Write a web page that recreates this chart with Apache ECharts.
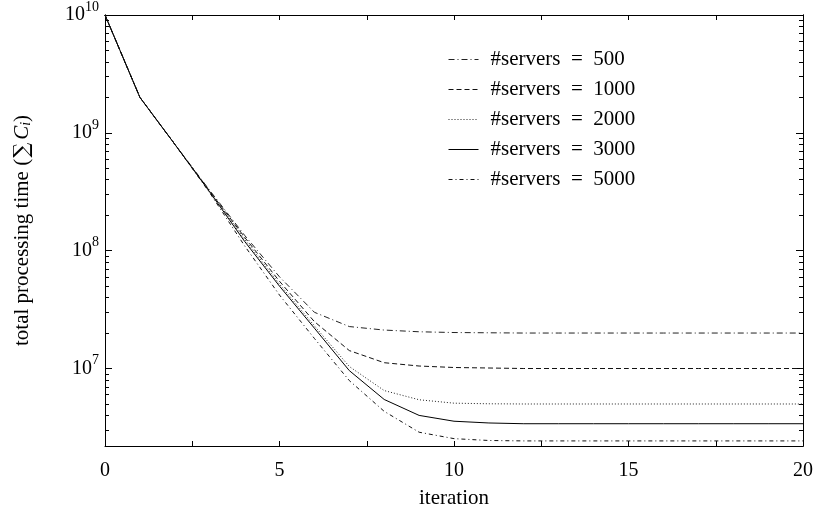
<!DOCTYPE html>
<html><head><meta charset="utf-8">
<script src="https://cdn.jsdelivr.net/npm/echarts@6/dist/echarts.min.js"></script>
<style>html,body{margin:0;padding:0;background:#fff}#c{width:816px;height:516px}</style>
</head><body><div id="c"></div>
<script>
const iterations = [0,1,2,3,4,5,6,7,8,9,10,11,12,13,14,15,16,17,18,19,20];
const seriesNames = ['#servers = 500','#servers = 1000','#servers = 2000','#servers = 3000','#servers = 5000'];
const s500  = [1e10,2e9,8.0e8,3.25e8,1.35e8,6.0e7,3.0e7,2.27e7,2.12e7,2.05e7,2.02e7,2.01e7,2.0e7,2.0e7,2.0e7,2.0e7,2.0e7,2.0e7,2.0e7,2.0e7,2.0e7];
const s1000 = [1e10,2e9,8.0e8,3.2e8,1.3e8,5.5e7,2.5e7,1.42e7,1.12e7,1.05e7,1.02e7,1.01e7,1.0e7,1.0e7,1.0e7,1.0e7,1.0e7,1.0e7,1.0e7,1.0e7,1.0e7];
const s2000 = [1e10,2e9,8.0e8,3.2e8,1.25e8,5.2e7,2.3e7,1.04e7,6.5e6,5.43e6,5.08e6,5.02e6,5.0e6,5.0e6,5.0e6,5.0e6,5.0e6,5.0e6,5.0e6,5.0e6,5.0e6];
const s3000 = [1e10,2e9,8.0e8,3.15e8,1.2e8,5.0e7,2.2e7,9.6e6,5.46e6,4.0e6,3.57e6,3.45e6,3.4e6,3.4e6,3.4e6,3.4e6,3.4e6,3.4e6,3.4e6,3.4e6,3.4e6];
const s5000 = [1e10,2e9,8.0e8,3.1e8,1.1e8,4.2e7,1.8e7,7.9e6,4.33e6,2.88e6,2.54e6,2.45e6,2.43e6,2.43e6,2.43e6,2.43e6,2.43e6,2.43e6,2.43e6,2.43e6,2.43e6];
const xTicks = [0,2.5,5,7.5,10,12.5,15,17.5,20];
const xLabels = [0,5,10,15,20];
const yMajor = [1e7,1e8,1e9,1e10];
const yMinor = [3e6,4e6,5e6,6e6,7e6,8e6,9e6,2e7,3e7,4e7,5e7,6e7,7e7,8e7,9e7,2e8,3e8,4e8,5e8,6e8,7e8,8e8,9e8,2e9,3e9,4e9,5e9,6e9,7e9,8e9,9e9];

const FONT = 'Liberation Serif';
const styles = [
  {type:[6,3,1,3], color:'#222'},
  {type:[5,3], color:'#111'},
  {type:[1,2], color:'#222'},
  {type:'solid', color:'#000'},
  {type:[4,3,1,3], color:'#111'}
];
const allData = [s500,s1000,s2000,s3000,s5000];
const series = allData.map((arr,k)=>({
  name: seriesNames[k], type:'line', symbol:'none', showSymbol:false, xAxisIndex:0, yAxisIndex:0,
  data: iterations.map((x,i)=>[x,arr[i]]),
  lineStyle:{width:1, color:styles[k].color, type:styles[k].type},
  itemStyle:{color:styles[k].color},
  animation:false
}));

function yAxisBase(pos, tickVals, len, showLabel){
  return {
    type:'log', min:2.2e6, max:1e10, position:pos,
    axisLine:{show:true, lineStyle:{color:'#000', width:1}},
    splitLine:{show:false},
    axisTick:{show:true, inside:true, length:len, customValues:tickVals, lineStyle:{color:'#000',width:1}},
    axisLabel: showLabel ? {
      show:true, customValues:yMajor, margin:6,
      formatter: v => { const e = v < 100 ? Math.round(v) : Math.round(Math.log10(v)); return '{b|10}{s|' + e + '}'; },
      rich:{ b:{fontFamily:FONT, fontSize:20, color:'#000', lineHeight:30},
             s:{fontFamily:FONT, fontSize:14, color:'#000', verticalAlign:'top', lineHeight:14} }
    } : {show:false}
  };
}

const option = {
  animation:false,
  backgroundColor:'#fff',
  grid:{left:105, right:11, top:14, bottom:70, containLabel:false},
  legend:{
    orient:'vertical', left:448, top:49, padding:0, itemWidth:30, itemHeight:14, itemGap:9,
    data:seriesNames, selectedMode:false,
    itemStyle:{opacity:0, borderWidth:0},
    lineStyle:{width:1},
    formatter: name => name.replace(' = ', '\u2002=\u2002'),
    textStyle:{fontFamily:FONT, fontSize:21, color:'#000', padding:[0,0,0,7]}
  },
  xAxis:[
    {type:'value', min:0, max:20, interval:2.5, position:'bottom',
     name:'iteration', nameLocation:'middle', nameGap:42,
     nameTextStyle:{fontFamily:FONT, fontSize:21, color:'#000'},
     axisLine:{show:true, lineStyle:{color:'#000',width:1}},
     splitLine:{show:false},
     axisTick:{show:true, inside:true, length:5, customValues:xTicks, lineStyle:{color:'#000'}},
     axisLabel:{show:true, customValues:xLabels, margin:15, fontFamily:FONT, fontSize:20, color:'#000'}},
    {type:'value', min:0, max:20, interval:2.5, position:'top',
     axisLine:{show:true, lineStyle:{color:'#000',width:1}},
     splitLine:{show:false},
     axisTick:{show:true, inside:true, length:5, customValues:xTicks, lineStyle:{color:'#000'}},
     axisLabel:{show:false}}
  ],
  yAxis:[
    Object.assign(yAxisBase('left', yMajor, 7, true), {
      name:'{t|total processing time (}{m|∑}{c|C}{i|i}{t|)}', nameLocation:'middle', nameGap:72,
      nameTextStyle:{ rich:{
        t:{fontFamily:FONT, fontSize:21, color:'#000'},
        m:{fontFamily:'DejaVu Serif', fontSize:21, color:'#000', padding:[0,3,0,1]},
        c:{fontFamily:FONT, fontSize:21, fontStyle:'italic', color:'#000'},
        i:{fontFamily:FONT, fontSize:14, fontStyle:'italic', color:'#000', verticalAlign:'bottom', lineHeight:14}
      }}
    }),
    yAxisBase('left', yMinor, 4, false),
    yAxisBase('right', yMajor, 7, false),
    yAxisBase('right', yMinor, 4, false)
  ],
  series: series
};
const chart = echarts.init(document.getElementById('c'), null, {renderer:'canvas'});
chart.setOption(option);
</script>
</body></html>
